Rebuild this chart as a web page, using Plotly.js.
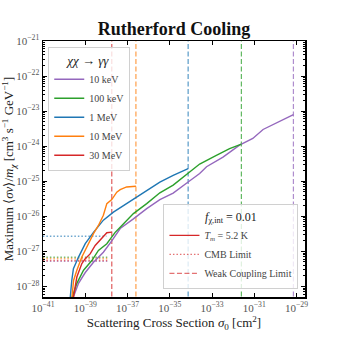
<!DOCTYPE html>
<html>
<head>
<meta charset="utf-8">
<script src="https://cdn.plot.ly/plotly-3.0.1.min.js"></script>
<style>
  html, body { margin: 0; padding: 0; background: #fff; }
  #graph { width: 340px; height: 340px; }
</style>
</head>
<body>
<div id="graph"></div>
<script>
// DM masses shown in the first legend
const masses = ['10 keV', '100 keV', '1 MeV', '10 MeV', '30 MeV'];

// Scattering cross section sigma_0 [cm^2] and max <sigma v>/m [cm^3 s^-1 GeV^-1], one pair per mass
const sigma10keV = [2.4e-40, 2.7e-40, 4.8e-40, 1.0e-39, 2.45e-39, 7.2e-39, 1.8e-38, 4.5e-38, 1.9e-37, 8.1e-37,
  3.4e-36, 1.45e-35, 7.4e-35, 2.6e-34, 5.5e-34, 3.3e-33, 2.0e-32, 8.5e-32, 2.6e-31, 1.1e-30, 7.1e-30];
const sv10keV = [1e-29, 4.9e-29, 1.23e-28, 2.5e-28, 4.9e-28, 9.5e-28, 2.0e-27, 4.5e-27, 8.5e-27, 1.66e-26,
  3.0e-26, 4.6e-26, 9.5e-26, 1.66e-25, 2.6e-25, 4.9e-25, 1.07e-24, 1.66e-24, 3.0e-24, 4.5e-24, 8.0e-24];

const sigma100keV = [2.35e-40, 2.4e-40, 4.0e-40, 8.3e-40, 2.05e-39, 4.2e-39, 1.05e-38, 2.6e-38, 4.5e-38, 1.9e-37,
  8.1e-37, 3.4e-36, 1.45e-35, 7.4e-35, 2.6e-34, 1.6e-33, 6.8e-33, 2.45e-32];
const sv100keV = [1e-29, 4.9e-29, 1.23e-28, 2.9e-28, 5.5e-28, 1.07e-27, 1.66e-27, 3.5e-27, 4.9e-27, 1.2e-26,
  2.3e-26, 4.7e-26, 7.8e-26, 1.66e-25, 3.1e-25, 5.5e-25, 8.5e-25, 1.15e-24];

const sigma1MeV = [1.8e-40, 1.95e-40, 2.3e-40, 2.75e-40, 4.8e-40, 1.0e-39, 2.45e-39, 7.2e-39, 2.15e-38, 9.1e-38,
  3.9e-37, 3.4e-36, 1.45e-35, 7.4e-35];
const sv1MeV = [1e-29, 4.9e-29, 1.48e-28, 3.2e-28, 6.9e-28, 1.66e-27, 3.5e-27, 7.8e-27, 1.32e-26, 2.3e-26,
  4.0e-26, 9.5e-26, 1.48e-25, 2.3e-25];

const sigma10MeV = [2.15e-40, 2.35e-40, 2.8e-40, 4.0e-40, 6.9e-40, 1.4e-39, 2.45e-39, 4.2e-39, 7.2e-39, 1.05e-38,
  1.8e-38, 3.1e-38, 4.5e-38, 9.1e-38, 2.25e-37, 2.5e-37];
const sv10MeV = [1e-29, 4.9e-29, 1.48e-28, 2.9e-28, 6.9e-28, 1.66e-27, 3.2e-27, 5.5e-27, 1.07e-26, 2.3e-26,
  3.0e-26, 4.9e-26, 5.8e-26, 6.9e-26, 7.2e-26, 7.2e-26];

const sigma30MeV = [2.7e-40, 2.75e-40, 4.0e-40, 6.9e-40, 1.0e-39, 1.7e-39, 2.95e-39, 6.0e-39, 1.05e-38, 1.8e-38];
const sv30MeV = [1e-29, 4.9e-29, 1.86e-28, 4.5e-28, 6.2e-28, 8.5e-28, 1.48e-27, 2.3e-27, 3.4e-27, 3.55e-27];

// Weak coupling limit on sigma_0 for each mass (vertical dashed lines)
const weakLimit = [7.1e-30, 2.45e-32, 7.4e-35, 2.5e-37, 1.8e-38];
// CMB limit on <sigma v>/m for each mass (horizontal dotted lines) and where they stop
const cmbLimit = [5.2e-28, 6.8e-28, 2.7e-27, 6.3e-28, 5.5e-28];
const cmbEnd = [1.1e-38, 1.1e-38, 1.0e-38, 1.1e-38, 1.1e-38];

// Tick labels
const xTickExp = [-41, -39, -37, -35, -33, -31, -29];
const yTickExp = [-28, -27, -26, -25, -24, -23, -22, -21];

const sigmas = [sigma10keV, sigma100keV, sigma1MeV, sigma10MeV, sigma30MeV];
const svs = [sv10keV, sv100keV, sv1MeV, sv10MeV, sv30MeV];
const colors = ['#9467bd', '#2ca02c', '#1f77b4', '#ff7f0e', '#d62728'];

const serif = 'Liberation Serif, Times New Roman, serif';
const traces = [];

// vertical weak coupling limits, drawn over the full height of the axes
weakLimit.forEach((w, i) => {
  traces.push({
    x: [w, w], y: [1e-30, 1e-20], mode: 'lines',
    line: { color: colors[i], width: 1.2, dash: '5px,2.5px' },
    opacity: 0.75, showlegend: false, hoverinfo: 'skip'
  });
});

// horizontal CMB limits
cmbLimit.forEach((c, i) => {
  traces.push({
    x: [1e-42, cmbEnd[i]], y: [c, c], mode: 'lines',
    line: { color: colors[i], width: 1.4, dash: '1.5px,2px' },
    opacity: 0.65, showlegend: false, hoverinfo: 'skip'
  });
});

// the maximum annihilation curves
masses.forEach((m, i) => {
  traces.push({
    x: sigmas[i], y: svs[i], mode: 'lines', name: m,
    line: { color: colors[i], width: 1.4 },
    legend: 'legend'
  });
});

// second legend: line styles
traces.push({ x: [null], y: [null], mode: 'lines', name: '<i>T<sub>m</sub></i> = 5.2 K',
  line: { color: '#d62728', width: 1.4 }, legend: 'legend2' });
traces.push({ x: [null], y: [null], mode: 'lines', name: 'CMB Limit',
  line: { color: '#d62728', width: 1.4, dash: '1.5px,2px' }, opacity: 0.65, legend: 'legend2' });
traces.push({ x: [null], y: [null], mode: 'lines', name: 'Weak Coupling Limit',
  line: { color: '#d62728', width: 1.4, dash: '5px,2.5px' }, opacity: 0.65, legend: 'legend2' });

const axisCommon = {
  type: 'log',
  showline: true, linecolor: '#000', linewidth: 1.5, mirror: 'ticks',
  ticks: 'inside', ticklen: 4, tickcolor: '#000',
  showgrid: false, zeroline: false,
  tickfont: { family: serif, size: 11, color: '#555' }
};

const layout = {
  width: 340, height: 340,
  margin: { l: 43, r: 35, t: 41, b: 43 },
  paper_bgcolor: '#fff', plot_bgcolor: '#fff',
  font: { family: serif, color: '#222' },
  title: {
    text: '<b>Rutherford Cooling</b>',
    font: { family: serif, size: 18, color: '#111' },
    x: 0.5, xref: 'paper', y: 0.917, yref: 'container', yanchor: 'middle'
  },
  xaxis: Object.assign({}, axisCommon, {
    range: [-41, -28.6],
    tickvals: xTickExp.map(e => Math.pow(10, e)),
    ticktext: xTickExp.map(e => '10<sup>\u2212' + (-e) + '</sup>'),
    title: { text: 'Scattering Cross Section <i>\u03c3</i><sub>0</sub> [cm<sup>2</sup>]',
      font: { family: serif, size: 13 }, standoff: 2 }
  }),
  yaxis: Object.assign({}, axisCommon, {
    range: [-28.3, -21],
    tickvals: yTickExp.map(e => Math.pow(10, e)),
    ticktext: yTickExp.map(e => '10<sup>\u2212' + (-e) + '</sup>'),
    minor: { ticks: 'inside', ticklen: 2, tickcolor: '#000', dtick: 'D1', showgrid: false },
    title: { text: 'Maximum \u27e8<i>\u03c3v</i>\u27e9/<i>m<sub>\u03c7</sub></i> [cm<sup>3</sup> s<sup>\u22121</sup> GeV<sup>\u22121</sup>]',
      font: { family: serif, size: 13 }, standoff: 2 }
  }),
  legend: {
    x: 0.02, xanchor: 'left', y: 0.977, yanchor: 'top',
    bgcolor: 'rgba(255,255,255,0.8)', bordercolor: '#d0d0d0', borderwidth: 1,
    font: { family: serif, size: 10, color: '#444' },
    title: { text: '<i>\u03c7\u03c7</i> \u2192 <i>\u03b3\u03b3</i>', side: 'top center',
      font: { family: serif, size: 13, color: '#222' } },
    itemwidth: 30, tracegroupgap: 0
  },
  legend2: {
    x: 0.975, xanchor: 'right', y: 0.03, yanchor: 'bottom',
    bgcolor: 'rgba(255,255,255,0.8)', bordercolor: '#d0d0d0', borderwidth: 1,
    font: { family: serif, size: 10, color: '#444' },
    title: { text: '<i>f</i><sub>\u03c7,int</sub> = 0.01', side: 'top center',
      font: { family: serif, size: 12, color: '#222' } },
    itemwidth: 30
  },
  showlegend: true
};

Plotly.newPlot('graph', traces, layout, { displayModeBar: false, staticPlot: true });
</script>
</body>
</html>
